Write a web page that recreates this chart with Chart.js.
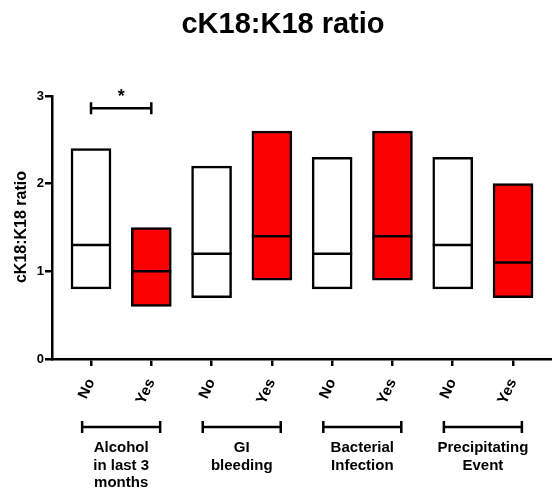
<!DOCTYPE html>
<html>
<head>
<meta charset="utf-8">
<script src="https://cdn.jsdelivr.net/npm/chart.js@4/dist/chart.umd.min.js"></script>
<style>
  html, body { margin: 0; padding: 0; background: #fff; }
  #wrap { width: 552px; height: 492px; position: relative; }
</style>
</head>
<body>
<div id="wrap"><canvas id="ratioChart"></canvas></div>
<script>
// data
const tickLabels = ['No', 'Yes', 'No', 'Yes', 'No', 'Yes', 'No', 'Yes'];
const lowValues = [0.8, 0.6, 0.7, 0.9, 0.8, 0.9, 0.8, 0.7];
const highValues = [2.4, 1.5, 2.2, 2.6, 2.3, 2.6, 2.3, 2.0];
const medianValues = [1.3, 1.0, 1.2, 1.4, 1.2, 1.4, 1.3, 1.1];
const groupLabels = [['Alcohol', 'in last 3', 'months'], ['GI', 'bleeding'], ['Bacterial', 'Infection'], ['Precipitating', 'Event']];
const yTicks = [0, 1, 2, 3];
const sigPair = [0, 1];
const sigLevel = 2.86;

const FONT = '"Liberation Sans", Arial, sans-serif';
const RED = 'rgb(250, 0, 0)';

const barColors = tickLabels.map(l => l === 'Yes' ? RED : '#ffffff');

// medians, brackets and extra text
const annotations = {
  id: 'annotations',
  afterDatasetsDraw(chart) {
    const ctx = chart.ctx;
    const xs = chart.scales.x;
    const ys = chart.scales.y;
    const meta = chart.getDatasetMeta(0);
    ctx.save();
    ctx.strokeStyle = '#000';
    ctx.lineWidth = 2.5;

    // median lines
    meta.data.forEach((bar, i) => {
      const half = bar.width / 2;
      const y = ys.getPixelForValue(medianValues[i]);
      ctx.beginPath();
      ctx.moveTo(bar.x - half, y);
      ctx.lineTo(bar.x + half, y);
      ctx.stroke();
    });

    // significance bracket
    const sx1 = xs.getPixelForValue(sigPair[0]);
    const sx2 = xs.getPixelForValue(sigPair[1]);
    const sy = ys.getPixelForValue(sigLevel);
    ctx.beginPath();
    ctx.moveTo(sx1, sy); ctx.lineTo(sx2, sy);
    ctx.moveTo(sx1, sy - 6); ctx.lineTo(sx1, sy + 6);
    ctx.moveTo(sx2, sy - 6); ctx.lineTo(sx2, sy + 6);
    ctx.stroke();
    ctx.fillStyle = '#000';
    ctx.font = 'bold 18px ' + FONT;
    ctx.textAlign = 'center';
    ctx.textBaseline = 'middle';
    ctx.fillText('*', (sx1 + sx2) / 2, sy - 11);

    // group brackets and labels
    const by = 427;
    groupLabels.forEach((lines, g) => {
      const cx = (xs.getPixelForValue(g * 2) + xs.getPixelForValue(g * 2 + 1)) / 2;
      const l = cx - 39, r = cx + 39;
      ctx.beginPath();
      ctx.moveTo(l, by); ctx.lineTo(r, by);
      ctx.moveTo(l, by - 6); ctx.lineTo(l, by + 6);
      ctx.moveTo(r, by - 6); ctx.lineTo(r, by + 6);
      ctx.stroke();
      ctx.font = 'bold 15px ' + FONT;
      ctx.textBaseline = 'alphabetic';
      lines.forEach((t, k) => ctx.fillText(t, cx, 452 + k * 17.5));
    });

    // title
    ctx.font = 'bold 29px ' + FONT;
    ctx.fillText('cK18:K18 ratio', 283, 33);

    // y axis title
    ctx.translate(22, 227);
    ctx.rotate(-Math.PI / 2);
    ctx.font = 'bold 16px ' + FONT;
    ctx.textBaseline = 'middle';
    ctx.fillText('cK18:K18 ratio', 0, 0);
    ctx.restore();
  }
};

const ctx = document.getElementById('ratioChart').getContext('2d');
const ratioChart = new Chart(ctx, {
  type: 'bar',
  data: {
    datasets: [{
      data: tickLabels.map((t, i) => ({ x: i, y: [lowValues[i], highValues[i]] })),
      backgroundColor: barColors,
      borderColor: '#000',
      borderWidth: 2.5,
      borderSkipped: false,
      barThickness: 40
    }]
  },
  options: {
    responsive: true,
    maintainAspectRatio: false,
    animation: false,
    events: [],
    layout: { padding: { top: 96, right: 1, left: 0, bottom: 0 } },
    plugins: { legend: { display: false }, tooltip: { enabled: false } },
    scales: {
      x: {
        type: 'linear',
        offset: false,
        min: -0.647,
        max: 7.63,
        afterFit(scale) { scale.height = 133; },
        afterBuildTicks(scale) { scale.ticks = tickLabels.map((t, i) => ({ value: i })); },
        border: { color: '#000', width: 2.5 },
        grid: { offset: false, drawOnChartArea: false, color: '#000', lineWidth: 2.5, tickLength: 7 },
        ticks: {
          color: '#000',
          font: { family: FONT, size: 15, weight: 'bold' },
          minRotation: 65,
          maxRotation: 65,
          padding: 10,
          callback: (v) => tickLabels[v]
        }
      },
      y: {
        min: 0,
        max: 3,
        afterFit(scale) { scale.width = 52; },
        afterBuildTicks(scale) { scale.ticks = yTicks.map(v => ({ value: v })); },
        border: { color: '#000', width: 2.5 },
        grid: { drawOnChartArea: false, color: '#000', lineWidth: 2.5, tickLength: 7 },
        ticks: {
          color: '#000',
          font: { family: FONT, size: 13, weight: 'bold' },
          padding: 1
        }
      }
    }
  },
  plugins: [annotations]
});
</script>
</body>
</html>
